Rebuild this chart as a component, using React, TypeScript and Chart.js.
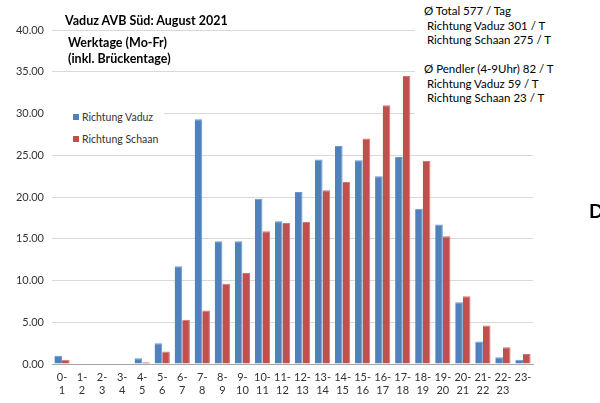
import React, { useEffect, useRef } from "react";
import { Chart, registerables } from "chart.js";

Chart.register(...registerables);

const categories: string[][] = [
  ["0-", "1"], ["1-", "2"], ["2-", "3"], ["3-", "4"], ["4-", "5"], ["5-", "6"],
  ["6-", "7"], ["7-", "8"], ["8-", "9"], ["9-", "10"], ["10-", "11"], ["11-", "12"],
  ["12-", "13"], ["13-", "14"], ["14-", "15"], ["15-", "16"], ["16-", "17"], ["17-", "18"],
  ["18-", "19"], ["19-", "20"], ["20-", "21"], ["21-", "22"], ["22-", "23"], ["23-", ""],
];

const vaduzValues = [
  1.0, 0, 0, 0, 0.7, 2.5, 11.7, 29.3, 14.7, 14.7, 19.8, 17.1,
  20.6, 24.5, 26.1, 24.4, 22.5, 24.8, 18.6, 16.7, 7.4, 2.7, 0.8, 0.5,
];

const schaanValues = [
  0.5, 0, 0, 0, 0.2, 1.5, 5.3, 6.4, 9.6, 10.9, 15.9, 16.9,
  17.0, 20.8, 21.8, 27.0, 31.0, 34.5, 24.3, 15.3, 8.1, 4.6, 2.0, 1.2,
];

const seriesNames = ["Richtung Vaduz", "Richtung Schaan"];
const seriesColors = ["#4F81BD", "#C0504D"];

const title = "Vaduz AVB Süd: August 2021";
const subtitleLines = ["Werktage (Mo-Fr)", "(inkl. Brückentage)"];
const statsTotal = ["Ø Total 577 / Tag", " Richtung Vaduz 301 / T", " Richtung Schaan 275 / T"];
const statsPendler = ["Ø Pendler (4-9Uhr) 82 / T", " Richtung Vaduz 59 / T", " Richtung Schaan 23 / T"];

const FONT = "Lato, 'Open Sans', sans-serif";

export default function App() {
  const canvasRef = useRef<HTMLCanvasElement | null>(null);

  useEffect(() => {
    if (!canvasRef.current) return;
    const chart = new Chart(canvasRef.current, {
      type: "bar",
      data: {
        labels: categories,
        datasets: [
          {
            label: seriesNames[0],
            data: vaduzValues,
            backgroundColor: seriesColors[0],
            borderColor: "#6C97CB",
            borderWidth: { left: 0, right: 1, top: 1, bottom: 0 },
            categoryPercentage: 0.76,
            barPercentage: 1.0,
          },
          {
            label: seriesNames[1],
            data: schaanValues,
            backgroundColor: seriesColors[1],
            borderColor: "#D47370",
            borderWidth: { left: 0, right: 1, top: 1, bottom: 0 },
            categoryPercentage: 0.76,
            barPercentage: 1.0,
          },
        ],
      },
      options: {
        animation: false,
        responsive: false,
        maintainAspectRatio: false,
        layout: { padding: { top: 30, right: 67, left: 0, bottom: 0 } },
        plugins: {
          legend: { display: false },
          tooltip: { enabled: false },
        },
        scales: {
          x: {
            grid: { display: false, drawTicks: false },
            border: { display: true, color: "#A6A6A6", width: 1 },
            ticks: {
              color: "#333",
              font: { family: FONT, size: 11 },
              padding: 7,
              maxRotation: 0,
              autoSkip: false,
            },
            afterFit: (scale: any) => {
              scale.height = 39;
            },
          },
          y: {
            min: 0,
            max: 40,
            grid: { color: "#D9D9D9", drawTicks: false },
            border: { display: false },
            ticks: {
              stepSize: 5,
              color: "#333",
              font: { family: FONT, size: 11 },
              padding: 8,
              callback: (v: any) => Number(v).toFixed(2),
            },
            afterFit: (scale: any) => {
              scale.width = 52;
            },
          },
        },
      },
    });
    return () => chart.destroy();
  }, []);

  const textBase: React.CSSProperties = {
    position: "absolute",
    fontFamily: FONT,
    whiteSpace: "pre",
    color: "#000",
    lineHeight: "1",
  };

  return (
    <div
      style={{
        position: "absolute",
        left: 0,
        top: 0,
        width: 600,
        height: 403,
        overflow: "hidden",
        background: "#fff",
      }}
    >
      <canvas ref={canvasRef} width={600} height={403} style={{ position: "absolute", left: 0, top: 0 }} />
      <div style={{ ...textBase, left: 65, top: 15, fontSize: 12.5, fontWeight: 700 }}>{title}</div>
      <div style={{ ...textBase, left: 68, top: 35, fontSize: 12.5, fontWeight: 700, lineHeight: "16px" }}>
        {subtitleLines.join("\n")}
      </div>
      <div
        style={{
          position: "absolute",
          left: 415,
          top: 0,
          width: 185,
          height: 150,
          background: "#fff",
        }}
      />
      <div style={{ ...textBase, left: 424, top: 4, fontSize: 11.5, lineHeight: "14.5px" }}>
        {statsTotal.join("\n")}
      </div>
      <div style={{ ...textBase, left: 424, top: 62, fontSize: 11.5, lineHeight: "14.5px" }}>
        {statsPendler.join("\n")}
      </div>
      <div
        style={{
          position: "absolute",
          left: 52,
          top: 104,
          width: 112,
          height: 48,
          background: "#fff",
        }}
      />
      {seriesNames.map((name, i) => (
        <div
          key={name}
          style={{ ...textBase, left: 73, top: 112 + i * 22, fontSize: 10.5, color: "#333", display: "flex", alignItems: "center" }}
        >
          <span
            style={{
              display: "inline-block",
              width: 6,
              height: 6,
              background: seriesColors[i],
              marginRight: 3,
            }}
          />
          {name}
        </div>
      ))}
      <div style={{ ...textBase, left: 589, top: 201, fontSize: 19, fontWeight: 700 }}>D</div>
    </div>
  );
}
